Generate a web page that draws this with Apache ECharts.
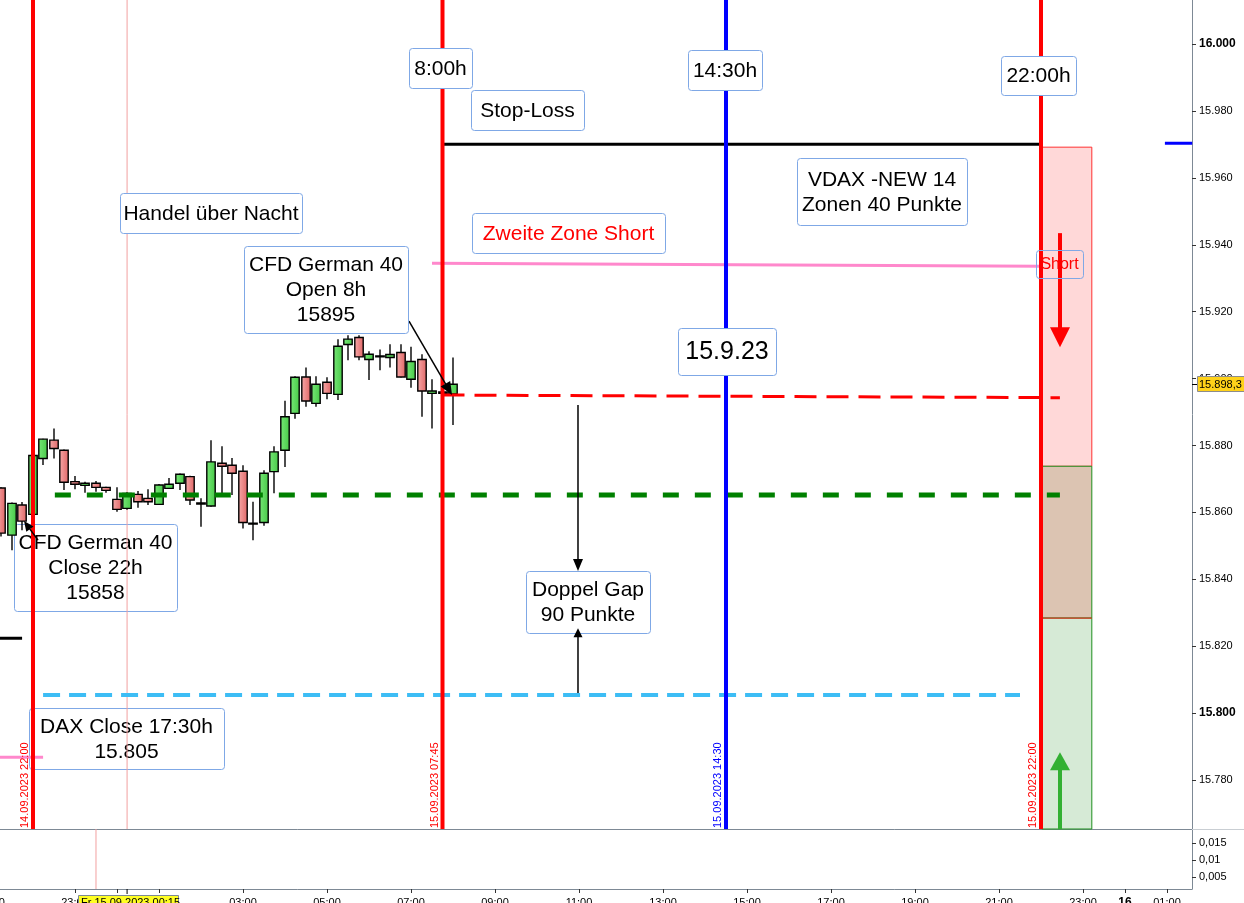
<!DOCTYPE html>
<html><head><meta charset="utf-8">
<script src="https://cdn.jsdelivr.net/npm/echarts@6/dist/echarts.min.js"></script>
<style>html,body{margin:0;padding:0;background:#fff;overflow:hidden}#c{width:1244px;height:903px}</style>
</head><body><div id="c"></div>
<script>
// Time axis: hours relative to 15.09.2023 00:00 (15-minute CFD German 40 candles)
const candleTimes = [-2.75,-2.5,-2.25,-2.0,-1.75,-1.5,-1.25,-1.0,-0.75,-0.5,-0.25,0.0,0.25,0.5,0.75,1.0,1.25,1.5,1.75,2.0,2.25,2.5,2.75,3.0,3.25,3.5,3.75,4.0,4.25,4.5,4.75,5.0,5.25,5.5,5.75,6.0,6.25,6.5,6.75,7.0,7.25,7.5,7.75,8.0];
const opens  = [15867.3,15853.2,15862.2,15859.4,15876.1,15881.6,15878.6,15869.2,15868.1,15868.7,15867.5,15863.9,15861.2,15865.4,15864.2,15862.4,15867.2,15868.7,15870.7,15862.8,15861.9,15874.7,15874.1,15872.3,15856.8,15857.0,15872.2,15878.6,15889.6,15900.5,15892.6,15898.9,15895.3,15910.2,15912.3,15905.7,15906.8,15906.3,15907.8,15899.8,15905.7,15895.6,15896.0,15895.4];
const closes = [15853.8,15862.7,15857.4,15877.0,15881.9,15879.1,15869.0,15868.4,15868.7,15867.5,15866.6,15860.9,15865.7,15863.2,15863.2,15868.2,15868.4,15871.4,15863.7,15862.6,15875.1,15873.8,15871.7,15857.0,15856.6,15871.7,15878.1,15888.6,15900.4,15893.3,15898.3,15895.6,15909.7,15911.8,15906.5,15907.3,15906.6,15907.2,15900.5,15905.1,15896.3,15896.3,15895.6,15898.3];
const lows   = [15852.8,15848.7,15854.7,15858.8,15874.2,15876.1,15866.7,15866.9,15865.9,15866.2,15865.9,15860.2,15860.8,15861.4,15862.2,15862.2,15867.0,15866.7,15862.2,15855.7,15861.7,15865.7,15865.2,15855.2,15851.7,15856.0,15865.7,15873.6,15888.0,15891.6,15891.6,15893.8,15893.6,15905.5,15905.5,15899.6,15902.5,15903.3,15900.3,15897.3,15888.6,15885.1,15894.0,15886.1];
const highs  = [15867.5,15863.0,15863.1,15877.4,15882.0,15885.1,15878.8,15870.9,15869.2,15869.4,15867.7,15867.5,15866.0,15866.4,15866.9,15868.5,15870.3,15871.6,15871.0,15864.2,15881.6,15879.8,15876.3,15874.1,15863.2,15872.6,15879.8,15893.4,15900.7,15903.3,15900.7,15900.4,15911.8,15913.0,15913.0,15908.2,15908.7,15910.3,15910.3,15909.5,15907.3,15899.8,15897.5,15906.3];
const lastPrice = 15898.3;

// price axis ticks and lower pane ticks
const priceTicks = [15780,15800,15820,15840,15860,15880,15900,15920,15940,15960,15980,16000];
const boldPriceTicks = [15800,16000];
const lowerTicks = [0.005,0.01,0.015];
const timeTickHours = [-1,0,1,3,5,7,9,11,13,15,17,19,21,23,24,25];
const timeLabelHours = [-1,1,3,5,7,9,11,13,15,17,19,21,23,24,25];

// vertical session lines
const verticalTimes  = [-2, 7.75, 14.5, 22];
const verticalLabels = ['14.09.2023 22:00','15.09.2023 07:45','15.09.2023 14:30','15.09.2023 22:00'];
const crosshairTime = 0.24, lowerMarkerTime = -0.5;

// horizontal levels: [startTime, startValue, endTime, endValue]
const stopLossLine   = [7.75, 15970.1, 22.0, 15970.1];
const zone2ShortLine = [7.5, 15934.5, 22.0, 15933.6];
const cfdOpenLine    = [7.75, 15895.1, 22.45, 15894.3];
const cfdCloseLine   = [-1.48, 15865.2, 22.45, 15865.2];
const daxCloseLine   = [-1.76, 15805.4, 21.5, 15805.4];
const prevBlackLine  = [-2.79, 15822.4, -2.26, 15822.4];
const prevPinkLine   = [-2.79, 15786.8, -1.76, 15786.8];
const rightBlueLine  = [24.95, 15970.4, 25.6, 15970.4];

// zone boxes at the right: time span and value edges (top → bottom)
const zoneTimes = [22.02, 23.21];
const zoneEdges = [15969.2, 15873.8, 15828.4, 15765.35];

// arrows: [x1, y1, x2, y2]
const arrowOpen   = [6.952, 15917.2, 7.976, 15895.1];
const arrowGapDn  = [10.976, 15892.1, 10.976, 15842.5];
const arrowGapUp  = [10.976, 15806.0, 10.976, 15825.4];
const arrowShort  = [22.452, 15943.5, 22.452, 15909.4];
const arrowLong   = [22.452, 15765.3, 22.452, 15788.3];
const arrowClose  = [-1.88, 15851.7, -2.214, 15857.4];

const X_MIN = -2.7857, X_MAX = 25.5952, Y_MIN = 15765.35, Y_MAX = 16013.2;
const FONT = '"Liberation Sans", Arial, sans-serif';

const chart = echarts.init(document.getElementById('c'), null, {renderer:'canvas'});

const candleData = candleTimes.map((t,i)=>[t,opens[i],closes[i],lows[i],highs[i]]);
const gGreen = new echarts.graphic.LinearGradient(0,0,1,0,[{offset:0,color:'#78e878'},{offset:1,color:'#46c846'}]);
const gRed = new echarts.graphic.LinearGradient(0,0,1,0,[{offset:0,color:'#f6aaaa'},{offset:1,color:'#e06565'}]);

function renderCandle(params, api){
  const t=api.value(0), o=api.value(1), c=api.value(2), l=api.value(3), h=api.value(4);
  const po=api.coord([t,o]), pc=api.coord([t,c]), pl=api.coord([t,l]), ph=api.coord([t,h]);
  const w = api.size([0.25,0])[0]*0.8;
  const top=Math.min(po[1],pc[1]), bot=Math.max(po[1],pc[1]);
  const bull = c>=o;
  const x = Math.round(po[0]);
  return {type:'group', children:[
    {type:'line', shape:{x1:x,y1:ph[1],x2:x,y2:pl[1]}, style:{stroke:'#000',lineWidth:1.4}},
    {type:'rect', shape:{x:x-w/2,y:top,width:w,height:Math.max(bot-top,1)}, style:{fill: bull?gGreen:gRed, stroke:'#000', lineWidth:1.4}}
  ]};
}

const arrowData = [arrowOpen, arrowGapDn, arrowGapUp, arrowShort, arrowLong, arrowClose];
const arrowStyles = [
  {color:'#000', w:1.5, head:13, headW:11},
  {color:'#000', w:1.5, head:12, headW:10},
  {color:'#000', w:1.5, head:9, headW:9},
  {color:'#ff0000', w:4, head:20, headW:20},
  {color:'#33b033', w:4, head:18, headW:20},
  {color:'#000', w:1.5, head:10, headW:9}
];
function renderArrow(params, api){
  const p1=api.coord([api.value(0),api.value(1)]), p2=api.coord([api.value(2),api.value(3)]);
  const st=arrowStyles[params.dataIndex];
  const dx=p2[0]-p1[0], dy=p2[1]-p1[1], len=Math.hypot(dx,dy), ux=dx/len, uy=dy/len;
  const bx=p2[0]-ux*st.head, by=p2[1]-uy*st.head, hw=st.headW/2;
  return {type:'group', children:[
    {type:'line', shape:{x1:p1[0],y1:p1[1],x2:bx+ux*1,y2:by+uy*1}, style:{stroke:st.color,lineWidth:st.w}},
    {type:'polygon', shape:{points:[[p2[0],p2[1]],[bx-uy*hw,by+ux*hw],[bx+uy*hw,by-ux*hw]]}, style:{fill:st.color}}
  ]};
}

function seg(arr, color, width, type, z){
  return {type:'line', xAxisIndex:0, yAxisIndex:0, data:[[arr[0],arr[1]],[arr[2],arr[3]]], symbol:'none', silent:true, animation:false,
    lineStyle:{color:color, width:width, type:type||'solid'}, z:z||4};
}
function vline(t, color, width, z){
  return {type:'line', xAxisIndex:0, yAxisIndex:0, data:[[t,Y_MIN],[t,Y_MAX]], symbol:'none', silent:true, animation:false,
    lineStyle:{color:color,width:width}, z:z||5};
}

const series = [
  {type:'line', xAxisIndex:0, yAxisIndex:0, data:[], silent:true, z:1,
    markArea:{silent:true, data:[
      [{coord:[zoneTimes[0],zoneEdges[0]], itemStyle:{color:'#ffd8d8',borderColor:'#ff3030',borderWidth:1}},{coord:[zoneTimes[1],zoneEdges[1]]}],
      [{coord:[zoneTimes[0],zoneEdges[1]], itemStyle:{color:'#dcc4b2',borderColor:'#1f8f1f',borderWidth:1}},{coord:[zoneTimes[1],zoneEdges[2]]}],
      [{coord:[zoneTimes[0],zoneEdges[2]], itemStyle:{color:'#d6ead6',borderColor:'#1f8f1f',borderWidth:1}},{coord:[zoneTimes[1],zoneEdges[3]]}]
    ]}},
  seg([zoneTimes[0],zoneEdges[2],zoneTimes[1],zoneEdges[2]], '#ff2020', 1, 'solid', 2),
  {type:'custom', xAxisIndex:0, yAxisIndex:0, data:candleData, renderItem:renderCandle, z:3, silent:true, animation:false, clip:true},
  seg(cfdCloseLine, '#008000', 5, [16,16]),
  seg(daxCloseLine, '#3dbdf5', 4, [17,9]),
  seg(cfdOpenLine, '#ff0000', 3, [22,10]),
  seg(zone2ShortLine, '#ff88cc', 3),
  seg(stopLossLine, '#000000', 3),
  seg(prevBlackLine, '#000000', 3),
  seg(prevPinkLine, '#ff88cc', 3),
  seg(rightBlueLine, '#0000ff', 3),
  vline(crosshairTime, '#f2a0a0', 1, 2),
  {type:'line', xAxisIndex:1, yAxisIndex:1, data:[[lowerMarkerTime,0.00147],[lowerMarkerTime,0.01912]], symbol:'none', silent:true, animation:false, lineStyle:{color:'#f2a0a0',width:1}},
  vline(verticalTimes[0], '#ff0000', 4),
  vline(verticalTimes[1], '#ff0000', 4),
  vline(verticalTimes[2], '#0000ff', 4),
  vline(verticalTimes[3], '#ff0000', 4),
  {type:'custom', xAxisIndex:0, yAxisIndex:0, data:arrowData, renderItem:renderArrow, z:6, silent:true, animation:false, clip:false}
];

const axisGray = '#7d8995';
const option = {
  animation:false,
  backgroundColor:'#fff',
  grid:[
    {left:0, right:52, top:0, height:829, outerBoundsMode:'none', containLabel:false},
    {left:0, right:52, top:829, height:60, outerBoundsMode:'none', containLabel:false}
  ],
  xAxis:[
    {type:'value', gridIndex:0, min:X_MIN, max:X_MAX, axisLine:{show:true,onZero:false,lineStyle:{color:axisGray,width:1}}, axisTick:{show:false}, axisLabel:{show:false}, splitLine:{show:false}},
    {type:'value', gridIndex:1, min:X_MIN, max:X_MAX, axisLine:{show:true,onZero:false,lineStyle:{color:axisGray,width:1}},
      axisTick:{show:true, length:4, lineStyle:{color:'#333'}, customValues:timeTickHours},
      axisLabel:{show:true, margin:8, fontSize:11, fontFamily:FONT, color:'#000', customValues:timeLabelHours,
        formatter:function(v){ if(Math.abs(v-24)<1e-6) return '{b|16}'; const hh=((Math.round(v)%24)+24)%24; return (hh<10?'0':'')+hh+':00'; },
        rich:{b:{fontWeight:'bold',fontSize:12,fontFamily:FONT,color:'#000'}}},
      splitLine:{show:false}}
  ],
  yAxis:[
    {type:'value', gridIndex:0, position:'right', min:Y_MIN, max:Y_MAX,
      axisLine:{show:true,onZero:false,lineStyle:{color:axisGray,width:1}},
      axisTick:{show:true,length:4,lineStyle:{color:'#333'}, customValues:priceTicks},
      axisLabel:{show:true, margin:7, fontSize:11, fontFamily:FONT, color:'#000', customValues:priceTicks,
        formatter:function(v){ const s=(v/1000).toFixed(3); return boldPriceTicks.indexOf(Math.round(v))>=0 ? '{b|'+s+'}' : s; },
        rich:{b:{fontWeight:'bold',fontSize:12,fontFamily:FONT,color:'#000'}}},
      splitLine:{show:false}},
    {type:'value', gridIndex:1, position:'right', min:0.00147, max:0.01912,
      axisLine:{show:true,onZero:false,lineStyle:{color:axisGray,width:1}},
      axisTick:{show:true,length:4,lineStyle:{color:'#333'}, customValues:lowerTicks},
      axisLabel:{show:true, margin:7, fontSize:11, fontFamily:FONT, color:'#000', customValues:lowerTicks,
        formatter:function(v){ return String(+v.toFixed(3)).replace('.',','); }},
      splitLine:{show:false}}
  ],
  series:series
};
chart.setOption(option);

// annotation boxes
function tbox(x,y,w,h,text,opt){
  opt=opt||{};
  const z = opt.z!=null?opt.z:20;
  return [
    {type:'rect', z:z, shape:{x:x+0.5,y:y+0.5,width:w,height:h,r:3}, style:{fill:opt.fill===undefined?'#fff':opt.fill, stroke:'#7fa8e6', lineWidth:1}},
    {type:'text', z:z+1, style:{x:x+w/2, y:y+h/2+1, text:text, fill:opt.color||'#000', font:(opt.size||21)+'px '+FONT, align:'center', verticalAlign:'middle', lineHeight:opt.lh||25}}
  ];
}
let els = [];
els = els.concat(tbox(409,48,63,40,'8:00h'));
els = els.concat(tbox(688,50,74,40,'14:30h'));
els = els.concat(tbox(1001,56,75,39,'22:00h'));
els = els.concat(tbox(471,90,113,40,'Stop-Loss'));
els = els.concat(tbox(120,193,182,40,'Handel über Nacht'));
els = els.concat(tbox(472,213,193,40,'Zweite Zone Short',{color:'#ff0000'}));
els = els.concat(tbox(797,158,170,67,'VDAX -NEW 14\nZonen 40 Punkte'));
els = els.concat(tbox(244,246,164,87,'CFD German 40\nOpen 8h\n15895'));
els = els.concat(tbox(678,328,98,47,'15.9.23',{size:25}));
els = els.concat(tbox(14,524,163,87,'CFD German 40\nClose 22h\n15858',{fill:'rgba(255,255,255,0)',z:1}));
els = els.concat(tbox(526,571,124,62,'Doppel Gap\n90 Punkte',{z:1}));
els = els.concat(tbox(29,708,195,61,'DAX Close 17:30h\n15.805',{fill:'rgba(255,255,255,0)',z:1}));
els = els.concat(tbox(1036,250,47,28,'Short',{fill:'rgba(255,255,255,0)',color:'#ff0000',size:16,lh:18}));

// rotated labels of vertical lines
const vColors = ['#ff0000','#ff0000','#0000ff','#ff0000'];
verticalTimes.forEach(function(t,i){
  const px = chart.convertToPixel({xAxisIndex:0}, t);
  els.push({type:'text', x:px-8, y:828, rotation:Math.PI/2, z:30,
    style:{text:verticalLabels[i], fill:vColors[i], font:'11px '+FONT, align:'left', verticalAlign:'middle'}});
});

// last price tag
const py = chart.convertToPixel({yAxisIndex:0}, lastPrice);
els.push({type:'rect', z:30, shape:{x:1197.5,y:Math.round(py)-7.5,width:47,height:15}, style:{fill:'#ffd21a',stroke:'#8c8c8c',lineWidth:1}});
els.push({type:'text', z:31, style:{x:1199,y:Math.round(py)+0.5,text:(lastPrice/1000).toFixed(4).replace(/(\d+)\.(\d{3})(\d)/,'$1.$2,$3'),fill:'#000',font:'11px '+FONT,align:'left',verticalAlign:'middle'}});
els.push({type:'line', z:30, shape:{x1:1192,y1:Math.round(py)+0.5,x2:1197,y2:Math.round(py)+0.5}, style:{stroke:'#000',lineWidth:1}});

// separator extension across the price axis
els.push({type:'line', z:1, shape:{x1:1192,y1:829.5,x2:1244,y2:829.5}, style:{stroke:'#c9ced3',lineWidth:1}});
// crosshair tick and time tag on the bottom axis
const cx = chart.convertToPixel({xAxisIndex:1}, crosshairTime);
els.push({type:'line', z:30, shape:{x1:cx,y1:889,x2:cx,y2:894}, style:{stroke:'#000',lineWidth:1}});
els.push({type:'rect', z:30, shape:{x:78.5,y:895.5,width:100,height:14}, style:{fill:'#ffff22',stroke:'#7d8995',lineWidth:1}});
els.push({type:'text', z:31, style:{x:81,y:897,text:'Fr 15.09.2023 00:15',fill:'#000',font:'11px '+FONT,align:'left',verticalAlign:'top'}});
// partially visible first time label
els.push({type:'text', z:31, style:{x:chart.convertToPixel({xAxisIndex:1}, -3),y:897,text:'21:00',fill:'#000',font:'11px '+FONT,align:'center',verticalAlign:'top'}});

chart.setOption({graphic:{elements:els}});
</script>
</body></html>
